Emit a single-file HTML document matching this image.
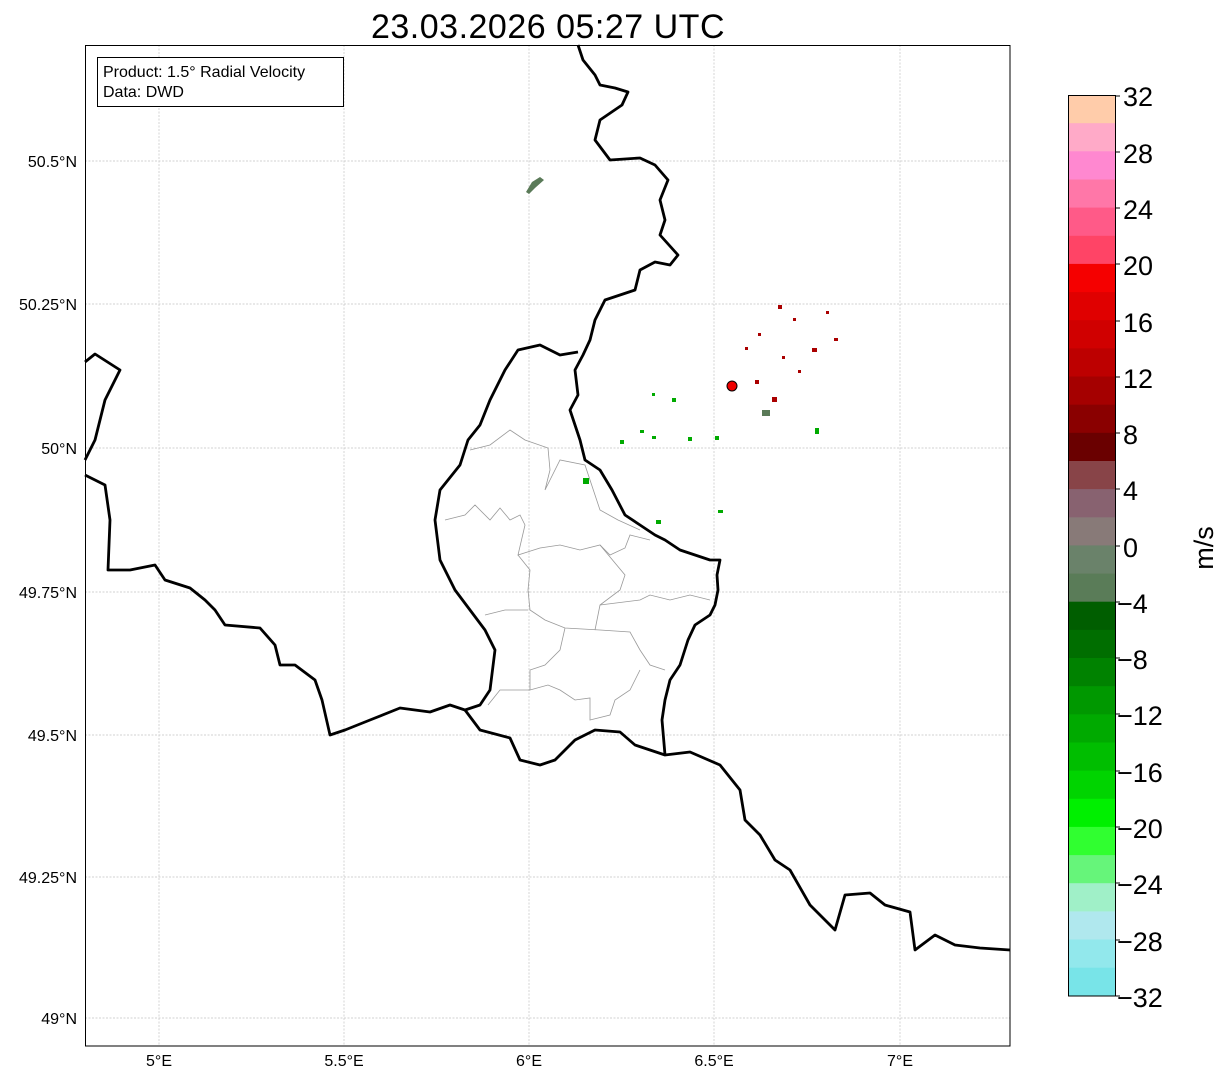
<!DOCTYPE html>
<html><head><meta charset="utf-8"><style>
body{margin:0;background:#fff;width:1225px;height:1081px;overflow:hidden;font-family:"Liberation Sans",sans-serif}
</style></head><body>
<svg width="1225" height="1081" xmlns="http://www.w3.org/2000/svg" font-family="Liberation Sans, sans-serif">
<text x="548" y="38" font-size="34" text-anchor="middle" letter-spacing="0.5">23.03.2026 05:27 UTC</text>
<g stroke="#c4c4c4" stroke-width="0.7" stroke-dasharray="2,1.5">
<line x1="159" y1="45" x2="159" y2="1046"/><line x1="344" y1="45" x2="344" y2="1046"/><line x1="529" y1="45" x2="529" y2="1046"/><line x1="714" y1="45" x2="714" y2="1046"/><line x1="900" y1="45" x2="900" y2="1046"/>
<line x1="85" y1="161" x2="1010" y2="161"/><line x1="85" y1="304" x2="1010" y2="304"/><line x1="85" y1="448" x2="1010" y2="448"/><line x1="85" y1="592" x2="1010" y2="592"/><line x1="85" y1="735" x2="1010" y2="735"/><line x1="85" y1="877" x2="1010" y2="877"/><line x1="85" y1="1018" x2="1010" y2="1018"/>
</g>
<g fill="none" stroke="#999" stroke-width="0.8">
<polyline points="470,450 490,445 510,430 525,440 548,448 550,470 545,490 560,460 585,465 590,480 600,510 618,520 640,530"/>
<polyline points="445,520 465,515 475,505 490,520 500,508 510,520 520,515 525,525 518,555 540,548 560,545 580,550 600,545 610,555 625,548 630,535 650,540"/>
<polyline points="518,555 530,570 528,590 530,610 545,620 565,628 600,630 630,632 640,650 650,665 665,670"/>
<polyline points="600,545 625,575 620,590 600,605 595,630"/>
<polyline points="600,605 640,600 650,595 670,600 690,595 710,600"/>
<polyline points="485,615 505,610 528,610"/>
<polyline points="565,628 560,650 545,665 530,670 530,690 548,685 560,690 575,700 590,698 590,720 610,715 615,700 630,690 640,670"/>
<polyline points="488,705 500,690 530,690"/>
</g>
<g fill="none" stroke="#000" stroke-width="2.8" stroke-linejoin="round">
<polyline points="578,45 583,60 595,75 600,85 615,88 628,92 622,105 600,120 595,140 610,160 640,158 655,165 668,180 660,200 665,220 660,235 678,255 670,265 655,262 640,270 635,290 605,300 595,320 590,340 583,355 575,370 578,395 570,410 580,440 585,460 600,470 612,490 625,515 640,525 655,535 665,540 680,550 695,555 710,560 720,560 717,575 718,590 715,605 710,615 695,625 688,640 680,665 670,680 665,700 662,720 665,755"/>
<polyline points="578,352 560,355 540,345 518,350 505,370 490,400 480,425 468,440 460,465 440,490 435,520 440,560 455,590 470,610 485,630 495,650 490,690 480,705 465,710 480,730 510,738 520,760 540,765 555,760 575,740 595,730 620,732 635,745 650,750 665,755 690,752 720,765 740,790 745,820 760,835 775,860 790,870 810,905 835,930 845,895 870,893 885,905 910,912 915,950 935,935 955,945 980,948 1010,950"/>
<polyline points="85,475 105,485 110,520 108,570 130,570 155,565 165,580 190,588 205,600 215,610 225,625 260,628 275,645 280,665 295,665 315,680 322,700 330,735 345,730 370,720 400,708 430,712 450,705 465,710"/>
<polyline points="85,362 95,354 120,370 105,400 95,440 85,460"/>
</g>
<g fill="#0a0">
<rect x="583" y="478" width="6" height="6"/><rect x="656" y="520" width="5" height="4"/><rect x="620" y="440" width="4" height="4"/><rect x="652" y="436" width="4" height="3"/><rect x="688" y="437" width="4" height="4"/><rect x="715" y="436" width="4" height="4"/><rect x="718" y="510" width="5" height="3"/><rect x="640" y="430" width="4" height="3"/><rect x="672" y="398" width="4" height="4"/><rect x="815" y="428" width="4" height="6"/><rect x="652" y="393" width="3" height="3"/>
</g>
<g fill="#5a7a58"><polygon points="526,192 532,182 540,177 544,180 535,188 529,194"/><rect x="762" y="410" width="8" height="6"/></g>
<g fill="#a00">
<rect x="778" y="305" width="4" height="4"/><rect x="758" y="333" width="3" height="3"/><rect x="745" y="347" width="3" height="3"/><rect x="782" y="356" width="3" height="3"/><rect x="826" y="311" width="3" height="3"/><rect x="834" y="338" width="4" height="3"/><rect x="812" y="348" width="5" height="4"/><rect x="755" y="380" width="4" height="4"/><rect x="772" y="397" width="5" height="5"/><rect x="793" y="318" width="3" height="3"/><rect x="798" y="370" width="3" height="3"/>
</g>
<circle cx="732" cy="386" r="5" fill="#e00" stroke="#000" stroke-width="1"/>
<rect x="85.5" y="45.5" width="924.5" height="1000.5" fill="none" stroke="#000" stroke-width="1"/>
<rect x="97.5" y="57.5" width="246" height="49" fill="#fff" stroke="#000" stroke-width="1"/>
<text x="103" y="77" font-size="16">Product: 1.5° Radial Velocity</text>
<text x="103" y="97" font-size="16">Data: DWD</text>
<g font-size="16" text-anchor="end">
<text x="77" y="167">50.5°N</text><text x="77" y="310">50.25°N</text><text x="77" y="454">50°N</text><text x="77" y="598">49.75°N</text><text x="77" y="741">49.5°N</text><text x="77" y="883">49.25°N</text><text x="77" y="1024">49°N</text>
</g>
<g font-size="16" text-anchor="middle">
<text x="159" y="1066">5°E</text><text x="344" y="1066">5.5°E</text><text x="529" y="1066">6°E</text><text x="714" y="1066">6.5°E</text><text x="900" y="1066">7°E</text>
</g>
<g>
<rect x="1068" y="95.0" width="47" height="28.6" fill="#ffccaa"/><rect x="1068" y="123.2" width="47" height="28.6" fill="#ffaac8"/><rect x="1068" y="151.3" width="47" height="28.6" fill="#ff88d0"/><rect x="1068" y="179.5" width="47" height="28.6" fill="#ff77a8"/><rect x="1068" y="207.6" width="47" height="28.6" fill="#ff5a88"/><rect x="1068" y="235.8" width="47" height="28.6" fill="#ff4466"/><rect x="1068" y="263.9" width="47" height="28.6" fill="#f50000"/><rect x="1068" y="292.1" width="47" height="28.6" fill="#e00000"/><rect x="1068" y="320.2" width="47" height="28.6" fill="#d00000"/><rect x="1068" y="348.4" width="47" height="28.6" fill="#bd0000"/><rect x="1068" y="376.5" width="47" height="28.6" fill="#a50000"/><rect x="1068" y="404.7" width="47" height="28.6" fill="#8a0000"/><rect x="1068" y="432.8" width="47" height="28.6" fill="#6a0000"/><rect x="1068" y="461.0" width="47" height="28.6" fill="#884448"/><rect x="1068" y="489.1" width="47" height="28.6" fill="#886270"/><rect x="1068" y="517.3" width="47" height="28.6" fill="#887a78"/><rect x="1068" y="545.4" width="47" height="28.6" fill="#6a826a"/><rect x="1068" y="573.6" width="47" height="28.6" fill="#5a7c58"/><rect x="1068" y="601.7" width="47" height="28.6" fill="#005e00"/><rect x="1068" y="629.9" width="47" height="28.6" fill="#006e00"/><rect x="1068" y="658.0" width="47" height="28.6" fill="#008200"/><rect x="1068" y="686.2" width="47" height="28.6" fill="#009800"/><rect x="1068" y="714.3" width="47" height="28.6" fill="#00aa00"/><rect x="1068" y="742.5" width="47" height="28.6" fill="#00be00"/><rect x="1068" y="770.6" width="47" height="28.6" fill="#00d400"/><rect x="1068" y="798.8" width="47" height="28.6" fill="#00f000"/><rect x="1068" y="826.9" width="47" height="28.6" fill="#30ff30"/><rect x="1068" y="855.1" width="47" height="28.6" fill="#66f57a"/><rect x="1068" y="883.2" width="47" height="28.6" fill="#a0f0c8"/><rect x="1068" y="911.4" width="47" height="28.6" fill="#b0e8ee"/><rect x="1068" y="939.5" width="47" height="28.6" fill="#92e8ec"/><rect x="1068" y="967.7" width="47" height="28.3" fill="#78e4e8"/>
<rect x="1068.5" y="95.5" width="47" height="900.5" fill="none" stroke="#000" stroke-width="1"/>
</g>
<g font-size="27">
<text x="1123" y="106">32</text><text x="1123" y="163">28</text><text x="1123" y="219">24</text><text x="1123" y="275">20</text><text x="1123" y="332">16</text><text x="1123" y="388">12</text><text x="1123" y="444">8</text><text x="1123" y="500">4</text><text x="1123" y="557">0</text><text x="1117" y="613">−4</text><text x="1117" y="669">−8</text><text x="1117" y="725">−12</text><text x="1117" y="782">−16</text><text x="1117" y="838">−20</text><text x="1117" y="894">−24</text><text x="1117" y="951">−28</text><text x="1117" y="1007">−32</text>
</g>
<g stroke="#000" stroke-width="1">
<line x1="1115" y1="96" x2="1120" y2="96"/><line x1="1115" y1="152" x2="1120" y2="152"/><line x1="1115" y1="208" x2="1120" y2="208"/><line x1="1115" y1="264" x2="1120" y2="264"/><line x1="1115" y1="321" x2="1120" y2="321"/><line x1="1115" y1="377" x2="1120" y2="377"/><line x1="1115" y1="433" x2="1120" y2="433"/><line x1="1115" y1="489" x2="1120" y2="489"/><line x1="1115" y1="546" x2="1120" y2="546"/><line x1="1115" y1="602" x2="1120" y2="602"/><line x1="1115" y1="658" x2="1120" y2="658"/><line x1="1115" y1="714" x2="1120" y2="714"/><line x1="1115" y1="771" x2="1120" y2="771"/><line x1="1115" y1="827" x2="1120" y2="827"/><line x1="1115" y1="883" x2="1120" y2="883"/><line x1="1115" y1="940" x2="1120" y2="940"/><line x1="1115" y1="996" x2="1120" y2="996"/>
</g>
<text x="1213" y="548" font-size="27" text-anchor="middle" transform="rotate(-90 1213 548)">m/s</text>
</svg>
</body></html>
